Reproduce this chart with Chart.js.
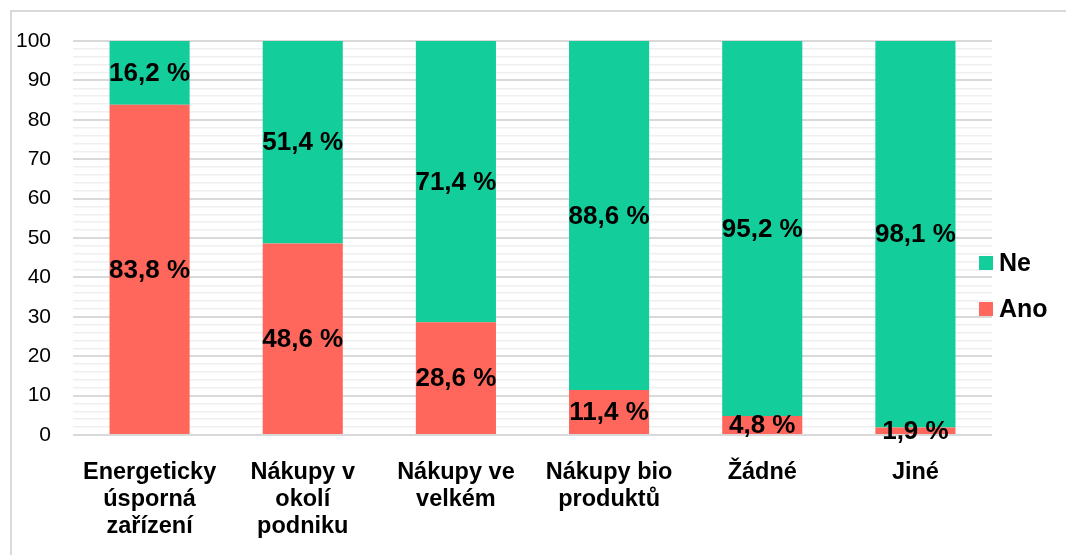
<!DOCTYPE html>
<html>
<head>
<meta charset="utf-8">
<script src="https://cdn.jsdelivr.net/npm/chart.js@4"></script>
<style>
  html, body { margin: 0; padding: 0; background: #fff; }
  #wrap { position: relative; width: 1066px; height: 555px; }
  #frame { position: absolute; left: 10px; top: 10px; right: 0; bottom: 0;
           border-top: 2px solid #d9d9d9; border-left: 2px solid #d9d9d9; }
  canvas { position: absolute; left: 0; top: 0; }
</style>
</head>
<body>
<div id="wrap">
  <div id="frame"></div>
  <canvas id="chart" width="1066" height="555"></canvas>
</div>
<script>
const categories = [
    ['Energeticky', 'úsporná', 'zařízení'],
    ['Nákupy v', 'okolí', 'podniku'],
    ['Nákupy ve', 'velkém'],
    ['Nákupy bio', 'produktů'],
    ['Žádné'],
    ['Jiné'],
];
const anoValues = [83.8, 48.6, 28.6, 11.4, 4.8, 1.9];
const neValues = [16.2, 51.4, 71.4, 88.6, 95.2, 98.1];
const seriesNames = ['Ano', 'Ne'];
const seriesColors = ['#ff675c', '#13cd9b'];

const FONT = "'Liberation Sans', Arial, sans-serif";

const fmt = (v) => v.toFixed(1).replace('.', ',') + ' %';

// values written in the middle of each segment
const barLabels = {
    id: 'barLabels',
    afterDatasetsDraw(chart) {
        const ctx = chart.ctx;
        ctx.save();
        ctx.font = 'bold 26px ' + FONT;
        ctx.fillStyle = '#000';
        ctx.textAlign = 'center';
        ctx.textBaseline = 'middle';
        chart.data.datasets.forEach((ds, i) => {
            chart.getDatasetMeta(i).data.forEach((bar, j) => {
                const c = bar.getCenterPoint();
                ctx.fillText(fmt(ds.data[j]), c.x, c.y + 1);
            });
        });
        ctx.restore();
    },
};

// legend on the right, Ne above Ano
const sideLegend = {
    id: 'sideLegend',
    afterDraw(chart) {
        const ctx = chart.ctx;
        const items = chart.data.datasets.slice().reverse();
        ctx.save();
        ctx.font = 'bold 25px ' + FONT;
        ctx.textAlign = 'left';
        ctx.textBaseline = 'middle';
        items.forEach((ds, i) => {
            const y = 263 + i * 46;
            ctx.fillStyle = ds.backgroundColor;
            ctx.fillRect(979, y - 7, 14, 14);
            ctx.fillStyle = '#000';
            ctx.fillText(ds.label, 999, y + 1);
        });
        ctx.restore();
    },
};

new Chart(document.getElementById('chart'), {
    type: 'bar',
    data: {
        labels: categories,
        datasets: [
            { label: seriesNames[0], data: anoValues, backgroundColor: seriesColors[0], borderWidth: 0 },
            { label: seriesNames[1], data: neValues, backgroundColor: seriesColors[1], borderWidth: 0 },
        ],
    },
    options: {
        responsive: false,
        animation: false,
        events: [],
        layout: {
            padding: { left: 10, right: 74, top: 41, bottom: 0 },
        },
        datasets: {
            bar: { barPercentage: 0.523, categoryPercentage: 1 },
        },
        scales: {
            x: {
                stacked: true,
                grid: { display: false },
                border: { display: false },
                ticks: {
                    color: '#000',
                    font: { family: FONT, size: 23.5, weight: 'bold', lineHeight: 1.15 },
                    padding: 16,
                    maxRotation: 0,
                    autoSkip: false,
                },
                afterFit: (s) => { s.height = 120; },
            },
            y: {
                stacked: true,
                min: 0,
                max: 100,
                border: { display: false },
                grid: {
                    drawTicks: false,
                    color: (c) => (c.tick.value % 10 === 0 ? '#d9d9d9' : '#efefef'),
                    lineWidth: (c) => (c.tick.value % 10 === 0 ? 2 : 1.5),
                },
                ticks: {
                    stepSize: 2,
                    autoSkip: false,
                    color: '#000',
                    font: { family: FONT, size: 21 },
                    padding: 22,
                    callback: (v) => (v % 10 === 0 ? v : ''),
                },
                afterFit: (s) => { s.width = 63; },
            },
        },
        plugins: {
            legend: { display: false },
            tooltip: { enabled: false },
        },
    },
    plugins: [barLabels, sideLegend],
});
</script>
</body>
</html>
